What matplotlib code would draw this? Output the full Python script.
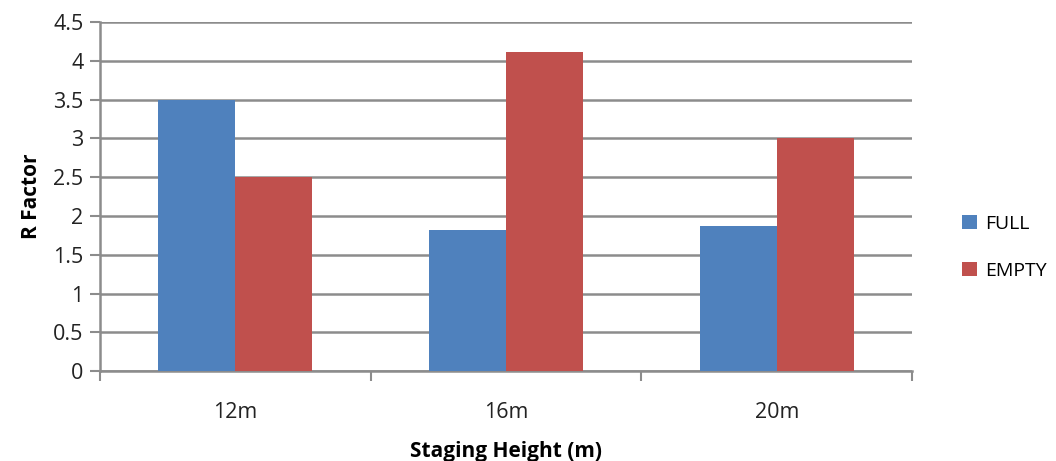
import numpy as np
import matplotlib.pyplot as plt

# data
heights = ['12m', '16m', '20m']
full = [3.5, 1.82, 1.87]
empty = [2.5, 4.11, 3.01]

plt.rcParams['font.family'] = ['Open Sans', 'DejaVu Sans']

fig = plt.figure(figsize=(10.56, 4.61), dpi=100)
ax = fig.add_axes([0.0947, 0.195, 0.769, 0.757])

x = np.arange(len(heights))
w = 0.285
ax.bar(x - w / 2, full, w, color='#4f81bd', label='FULL', zorder=3)
ax.bar(x + w / 2, empty, w, color='#c0504d', label='EMPTY', zorder=3)

ax.set_xlim(-0.5, 2.5)
ax.set_ylim(0, 4.5)
ax.set_yticks(np.arange(0, 4.51, 0.5))
ax.set_yticklabels(['0', '0.5', '1', '1.5', '2', '2.5', '3', '3.5', '4', '4.5'])
ax.yaxis.grid(True, color='#8c8c8c', linewidth=1.8, zorder=0)
ax.set_axisbelow(True)

# category ticks sit between groups, labels centred under groups
ax.set_xticks([-0.5, 0.5, 1.5, 2.5])
ax.set_xticklabels([])
ax.set_xticks(x, minor=True)
ax.set_xticklabels(heights, minor=True)
ax.tick_params(axis='x', which='minor', length=0, pad=22, labelsize=15.5, colors='#222222')
ax.tick_params(axis='x', which='major', length=7, width=1.5, color='#8c8c8c')
ax.tick_params(axis='y', length=7, width=1.5, color='#8c8c8c', labelsize=15.5, labelcolor='#222222', pad=5)

for s in ['top', 'right']:
    ax.spines[s].set_visible(False)
for s in ['left', 'bottom']:
    ax.spines[s].set_color('#8c8c8c')
    ax.spines[s].set_linewidth(1.8)

ax.set_ylabel('R Factor', fontsize=15, fontweight='bold', labelpad=8)
ax.set_xlabel('Staging Height (m)', fontsize=15, fontweight='bold', labelpad=13)

ax.legend(loc='center left', bbox_to_anchor=(1.04, 0.355), frameon=False,
          fontsize=14, handlelength=0.75, handleheight=0.75, labelspacing=1.5,
          handletextpad=0.45)

fig.savefig('out.png', dpi=100)
